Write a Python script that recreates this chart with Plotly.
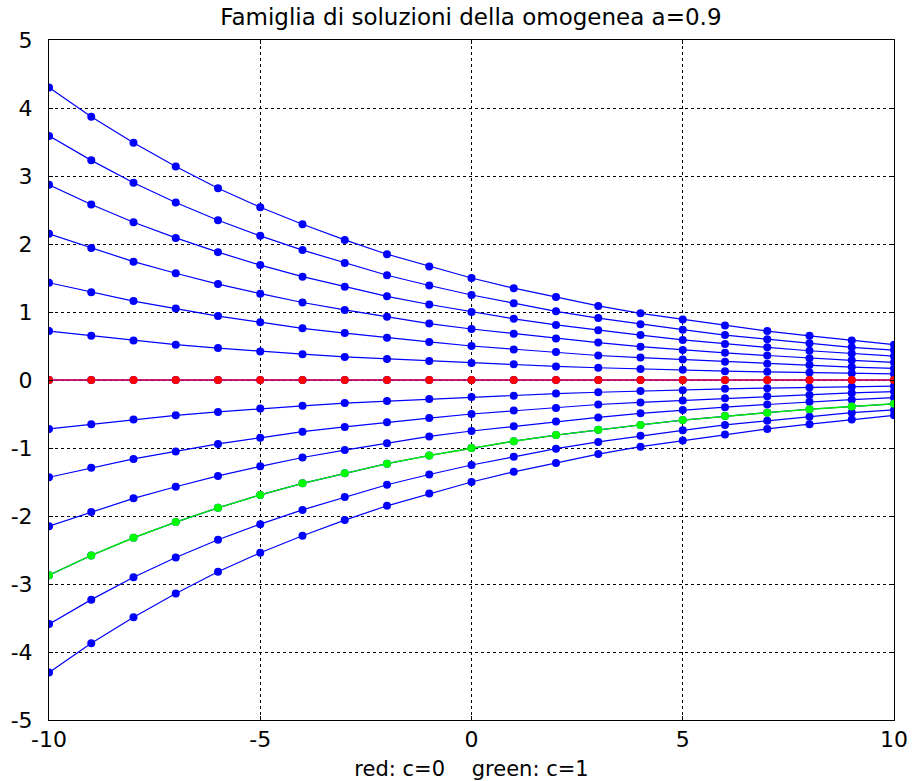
import plotly.graph_objects as go

x = list(range(-10, 11))

# families y = c * a^n, a = 0.9
c_p150 = [4.30, 3.87, 3.49, 3.14, 2.82, 2.54, 2.29, 2.06, 1.85, 1.67, 1.50, 1.35, 1.22, 1.09, 0.98, 0.89, 0.80, 0.72, 0.65, 0.58, 0.52]
c_p125 = [3.59, 3.23, 2.90, 2.61, 2.35, 2.12, 1.91, 1.72, 1.54, 1.39, 1.25, 1.13, 1.01, 0.91, 0.82, 0.74, 0.66, 0.60, 0.54, 0.48, 0.44]
c_p100 = [2.87, 2.58, 2.32, 2.09, 1.88, 1.69, 1.52, 1.37, 1.23, 1.11, 1.00, 0.90, 0.81, 0.73, 0.66, 0.59, 0.53, 0.48, 0.43, 0.39, 0.35]
c_p075 = [2.15, 1.94, 1.74, 1.57, 1.41, 1.27, 1.14, 1.03, 0.93, 0.83, 0.75, 0.68, 0.61, 0.55, 0.49, 0.44, 0.40, 0.36, 0.32, 0.29, 0.26]
c_p050 = [1.43, 1.29, 1.16, 1.05, 0.94, 0.85, 0.76, 0.69, 0.62, 0.56, 0.50, 0.45, 0.41, 0.36, 0.33, 0.30, 0.27, 0.24, 0.22, 0.19, 0.17]
c_p025 = [0.72, 0.65, 0.58, 0.52, 0.47, 0.42, 0.38, 0.34, 0.31, 0.28, 0.25, 0.23, 0.20, 0.18, 0.16, 0.15, 0.13, 0.12, 0.11, 0.10, 0.09]
c_0 = [0.0] * 21
c_m025 = [-0.72, -0.65, -0.58, -0.52, -0.47, -0.42, -0.38, -0.34, -0.31, -0.28, -0.25, -0.23, -0.20, -0.18, -0.16, -0.15, -0.13, -0.12, -0.11, -0.10, -0.09]
c_m050 = [-1.43, -1.29, -1.16, -1.05, -0.94, -0.85, -0.76, -0.69, -0.62, -0.56, -0.50, -0.45, -0.41, -0.36, -0.33, -0.30, -0.27, -0.24, -0.22, -0.19, -0.17]
c_m075 = [-2.15, -1.94, -1.74, -1.57, -1.41, -1.27, -1.14, -1.03, -0.93, -0.83, -0.75, -0.68, -0.61, -0.55, -0.49, -0.44, -0.40, -0.36, -0.32, -0.29, -0.26]
c_m100 = [-2.87, -2.58, -2.32, -2.09, -1.88, -1.69, -1.52, -1.37, -1.23, -1.11, -1.00, -0.90, -0.81, -0.73, -0.66, -0.59, -0.53, -0.48, -0.43, -0.39, -0.35]
c_m125 = [-3.59, -3.23, -2.90, -2.61, -2.35, -2.12, -1.91, -1.72, -1.54, -1.39, -1.25, -1.13, -1.01, -0.91, -0.82, -0.74, -0.66, -0.60, -0.54, -0.48, -0.44]
c_m150 = [-4.30, -3.87, -3.49, -3.14, -2.82, -2.54, -2.29, -2.06, -1.85, -1.67, -1.50, -1.35, -1.22, -1.09, -0.98, -0.89, -0.80, -0.72, -0.65, -0.58, -0.52]

blue_series = [c_p150, c_p125, c_p100, c_p075, c_p050, c_p025, c_0,
               c_m025, c_m050, c_m075, c_m100, c_m125, c_m150]
red_series = c_0
green_series = c_m100

x_ticks = [-10, -5, 0, 5, 10]
y_ticks = [-5, -4, -3, -2, -1, 0, 1, 2, 3, 4, 5]

title_text = "Famiglia di soluzioni della omogenea a=0.9"
xlabel_text = "red: c=0    green: c=1"

FONT = "DejaVu Sans"

fig = go.Figure()
for s in blue_series:
    fig.add_trace(go.Scatter(x=x, y=s, mode="lines+markers",
                             line=dict(color="#0000ff", width=1.2),
                             marker=dict(color="#0000ff", size=8),
                             showlegend=False, hoverinfo="skip"))
fig.add_trace(go.Scatter(x=x, y=red_series, mode="lines+markers",
                         line=dict(color="#e0004a", width=1.4),
                         marker=dict(color="#ff0000", size=8),
                         showlegend=False, hoverinfo="skip"))
fig.add_trace(go.Scatter(x=x, y=green_series, mode="lines+markers",
                         line=dict(color="#00ee00", width=1.4),
                         marker=dict(color="#00ff00", size=8),
                         showlegend=False, hoverinfo="skip"))

axis_common = dict(showgrid=True, gridcolor="black", griddash="dot", gridwidth=1,
                   showline=True, linecolor="black", linewidth=1, mirror="ticks",
                   ticks="inside", ticklen=4, tickcolor="black", zeroline=False,
                   automargin=False,
                   tickfont=dict(family=FONT, size=22, color="black"))

fig.update_xaxes(range=[-10, 10], tickvals=x_ticks, ticktext=[str(v) for v in x_ticks],
                 title=dict(text=xlabel_text, font=dict(family=FONT, size=21, color="black"), standoff=10),
                 **axis_common)
fig.update_yaxes(range=[-5, 5], tickvals=y_ticks, ticktext=[str(v) for v in y_ticks],
                 ticklabelstandoff=11, **axis_common)

fig.update_layout(
    width=915, height=781,
    margin=dict(l=49, r=21, t=40, b=61),
    paper_bgcolor="white", plot_bgcolor="white",
    title=dict(text=title_text, x=0.5147, xanchor="center", y=0.978, yanchor="middle",
               font=dict(family=FONT, size=23, color="black")),
)

fig.write_html("out.html")
